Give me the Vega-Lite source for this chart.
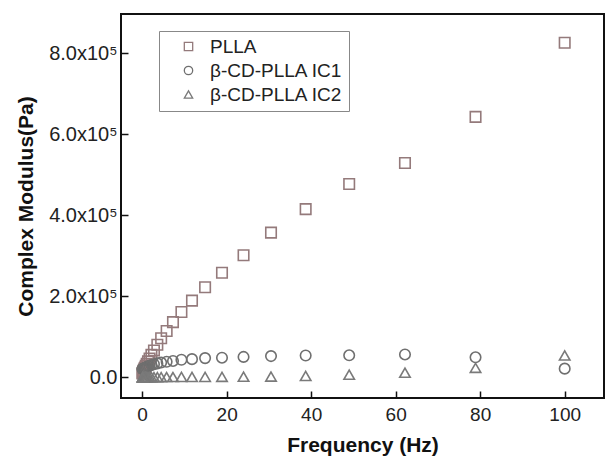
{
  "$schema": "https://vega.github.io/schema/vega-lite/v6.json",
  "width": 483,
  "height": 384,
  "autosize": {"type": "none"},
  "padding": {"left": 121, "top": 14, "right": 2, "bottom": 63},
  "background": "white",
  "config": {
    "view": {"stroke": "#111", "strokeWidth": 2},
    "font": "Liberation Sans"
  },
  "data": {"values": [
    {"f":100,"s":"PLLA","m":826000},{"f":78.9,"s":"PLLA","m":643000},{"f":62.2,"s":"PLLA","m":529000},{"f":49.0,"s":"PLLA","m":477000},{"f":38.7,"s":"PLLA","m":415000},{"f":30.5,"s":"PLLA","m":357000},{"f":24.0,"s":"PLLA","m":301000},{"f":18.9,"s":"PLLA","m":258000},{"f":14.9,"s":"PLLA","m":222000},{"f":11.8,"s":"PLLA","m":189000},{"f":9.3,"s":"PLLA","m":161000},{"f":7.3,"s":"PLLA","m":136000},{"f":5.8,"s":"PLLA","m":114000},{"f":4.5,"s":"PLLA","m":96000},{"f":3.6,"s":"PLLA","m":80000},{"f":2.8,"s":"PLLA","m":66000},{"f":2.2,"s":"PLLA","m":55000},{"f":1.76,"s":"PLLA","m":46000},{"f":1.39,"s":"PLLA","m":39000},{"f":1.09,"s":"PLLA","m":33000},{"f":0.86,"s":"PLLA","m":28000},{"f":0.68,"s":"PLLA","m":24000},{"f":0.54,"s":"PLLA","m":21000},{"f":0.42,"s":"PLLA","m":18000},{"f":0.33,"s":"PLLA","m":16000},{"f":0.26,"s":"PLLA","m":14000},{"f":0.21,"s":"PLLA","m":12000},{"f":0.16,"s":"PLLA","m":11000},{"f":0.13,"s":"PLLA","m":10000},{"f":0.1,"s":"PLLA","m":9000},
    {"f":100,"s":"β-CD-PLLA IC1","m":21000},{"f":78.9,"s":"β-CD-PLLA IC1","m":49000},{"f":62.2,"s":"β-CD-PLLA IC1","m":56000},{"f":49.0,"s":"β-CD-PLLA IC1","m":54000},{"f":38.7,"s":"β-CD-PLLA IC1","m":53500},{"f":30.5,"s":"β-CD-PLLA IC1","m":52000},{"f":24.0,"s":"β-CD-PLLA IC1","m":50000},{"f":18.9,"s":"β-CD-PLLA IC1","m":48000},{"f":14.9,"s":"β-CD-PLLA IC1","m":47000},{"f":11.8,"s":"β-CD-PLLA IC1","m":44500},{"f":9.3,"s":"β-CD-PLLA IC1","m":43000},{"f":7.3,"s":"β-CD-PLLA IC1","m":40000},{"f":5.8,"s":"β-CD-PLLA IC1","m":38000},{"f":4.5,"s":"β-CD-PLLA IC1","m":36000},{"f":3.6,"s":"β-CD-PLLA IC1","m":34000},{"f":2.8,"s":"β-CD-PLLA IC1","m":32000},{"f":2.2,"s":"β-CD-PLLA IC1","m":30000},{"f":1.76,"s":"β-CD-PLLA IC1","m":28000},{"f":1.39,"s":"β-CD-PLLA IC1","m":27000},{"f":1.09,"s":"β-CD-PLLA IC1","m":25000},{"f":0.86,"s":"β-CD-PLLA IC1","m":24000},{"f":0.68,"s":"β-CD-PLLA IC1","m":23000},{"f":0.54,"s":"β-CD-PLLA IC1","m":22000},{"f":0.42,"s":"β-CD-PLLA IC1","m":21000},{"f":0.33,"s":"β-CD-PLLA IC1","m":21000},{"f":0.26,"s":"β-CD-PLLA IC1","m":20000},{"f":0.21,"s":"β-CD-PLLA IC1","m":20000},{"f":0.16,"s":"β-CD-PLLA IC1","m":20000},{"f":0.13,"s":"β-CD-PLLA IC1","m":20000},{"f":0.1,"s":"β-CD-PLLA IC1","m":20000},
    {"f":100,"s":"β-CD-PLLA IC2","m":53500},{"f":78.9,"s":"β-CD-PLLA IC2","m":23000},{"f":62.2,"s":"β-CD-PLLA IC2","m":11000},{"f":49.0,"s":"β-CD-PLLA IC2","m":6000},{"f":38.7,"s":"β-CD-PLLA IC2","m":3000},{"f":30.5,"s":"β-CD-PLLA IC2","m":1500},{"f":24.0,"s":"β-CD-PLLA IC2","m":1000},{"f":18.9,"s":"β-CD-PLLA IC2","m":800},{"f":14.9,"s":"β-CD-PLLA IC2","m":600},{"f":11.8,"s":"β-CD-PLLA IC2","m":500},{"f":9.3,"s":"β-CD-PLLA IC2","m":400},{"f":7.3,"s":"β-CD-PLLA IC2","m":300},{"f":5.8,"s":"β-CD-PLLA IC2","m":300},{"f":4.5,"s":"β-CD-PLLA IC2","m":200},{"f":3.6,"s":"β-CD-PLLA IC2","m":200},{"f":2.8,"s":"β-CD-PLLA IC2","m":100},{"f":2.2,"s":"β-CD-PLLA IC2","m":100},{"f":1.76,"s":"β-CD-PLLA IC2","m":100},{"f":1.39,"s":"β-CD-PLLA IC2","m":0},{"f":1.09,"s":"β-CD-PLLA IC2","m":0},{"f":0.86,"s":"β-CD-PLLA IC2","m":0},{"f":0.68,"s":"β-CD-PLLA IC2","m":0},{"f":0.54,"s":"β-CD-PLLA IC2","m":0},{"f":0.42,"s":"β-CD-PLLA IC2","m":0},{"f":0.33,"s":"β-CD-PLLA IC2","m":0},{"f":0.26,"s":"β-CD-PLLA IC2","m":0},{"f":0.21,"s":"β-CD-PLLA IC2","m":0},{"f":0.16,"s":"β-CD-PLLA IC2","m":0},{"f":0.13,"s":"β-CD-PLLA IC2","m":0},{"f":0.1,"s":"β-CD-PLLA IC2","m":0}
  ]},
  "mark": {"type": "point", "filled": false, "strokeWidth": 1.6, "size": 110, "opacity": 1},
  "encoding": {
    "x": {
      "field": "f", "type": "quantitative",
      "scale": {"domain": [-5, 109.3], "nice": false, "zero": false},
      "axis": {
        "title": "Frequency (Hz)", "values": [0, 20, 40, 60, 80, 100],
        "grid": false, "domain": false, "tickSize": -7, "tickWidth": 1.5, "tickColor": "#111",
        "labelFont": "Liberation Sans", "labelFontSize": 19, "labelColor": "#222", "labelPadding": 14,
        "titleFont": "Liberation Sans", "titleFontSize": 21, "titleFontWeight": "bold", "titleColor": "#111", "titlePadding": 10
      }
    },
    "y": {
      "field": "m", "type": "quantitative",
      "scale": {"domain": [-51500, 897000], "nice": false, "zero": false},
      "axis": {
        "title": "Complex Modulus(Pa)", "values": [0, 200000, 400000, 600000, 800000],
        "labelExpr": "datum.value === 0 ? '0.0' : format(datum.value / 100000, '.1f') + 'x10⁵'",
        "grid": false, "domain": false, "tickSize": -7, "tickWidth": 1.5, "tickColor": "#111",
        "labelFont": "Liberation Sans", "labelFontSize": 20, "labelColor": "#222", "labelPadding": 11,
        "titleFont": "Liberation Sans", "titleFontSize": 21, "titleFontWeight": "bold", "titleColor": "#111", "titlePadding": 12
      }
    },
    "shape": {
      "field": "s", "type": "nominal",
      "scale": {"domain": ["PLLA", "β-CD-PLLA IC1", "β-CD-PLLA IC2"], "range": ["square", "circle", "triangle-up"]},
      "legend": {
        "title": null, "orient": "none", "legendX": 38, "legendY": 17,
        "strokeColor": "#888", "fillColor": "white", "padding": 6,
        "symbolSize": 70, "symbolStrokeWidth": 1.3, "symbolOffset": 14, "labelOffset": 12,
        "labelFont": "Liberation Sans", "labelFontSize": 19, "labelColor": "#222",
        "rowPadding": 4, "labelLimit": 300
      }
    },
    "color": {
      "field": "s", "type": "nominal",
      "scale": {"domain": ["PLLA", "β-CD-PLLA IC1", "β-CD-PLLA IC2"], "range": ["#947a7b", "#6f6f6f", "#7a7a7a"]},
      "legend": {
        "title": null, "orient": "none", "legendX": 38, "legendY": 17,
        "strokeColor": "#888", "fillColor": "white", "padding": 6,
        "symbolSize": 70, "symbolStrokeWidth": 1.3, "symbolOffset": 14, "labelOffset": 12,
        "labelFont": "Liberation Sans", "labelFontSize": 19, "labelColor": "#222",
        "rowPadding": 4, "labelLimit": 300
      }
    }
  }
}
